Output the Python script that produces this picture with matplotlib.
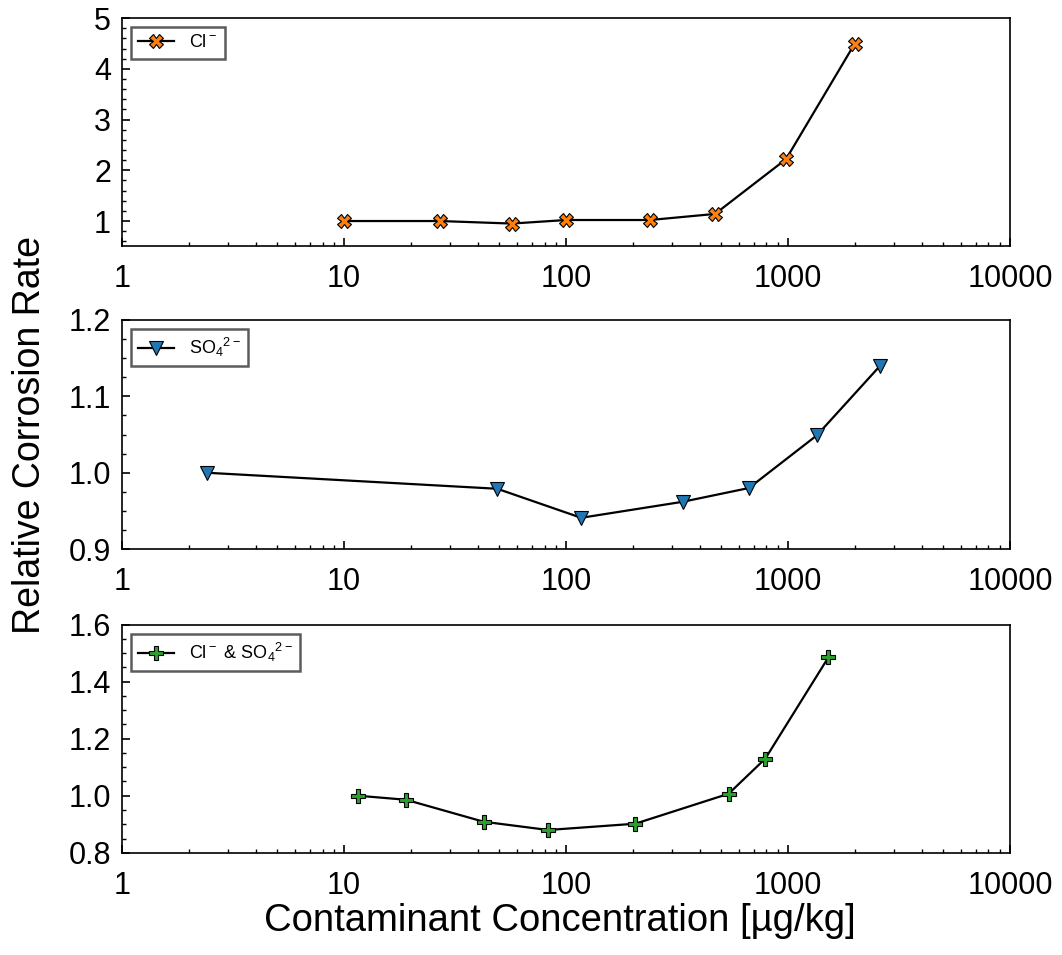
import matplotlib
matplotlib.use("Agg")
import matplotlib.pyplot as plt
from matplotlib.ticker import MultipleLocator, LogLocator, NullFormatter

plt.rcParams['font.family'] = ['Liberation Sans', 'DejaVu Sans']
plt.rcParams['mathtext.fontset'] = 'custom'
plt.rcParams['mathtext.rm'] = 'Liberation Sans'

# Data
cl_x = [10, 27, 57, 100, 239, 469, 980, 2000]
cl_y = [1.0, 1.0, 0.95, 1.02, 1.02, 1.14, 2.22, 4.5]
so4_x = [2.4, 49, 117, 336, 667, 1350, 2600]
so4_y = [1.0, 0.979, 0.941, 0.962, 0.98, 1.049, 1.14]
mix_x = [11.6, 19, 42.5, 83, 205, 540, 790, 1520]
mix_y = [1.0, 0.986, 0.909, 0.88, 0.902, 1.007, 1.13, 1.485]

labels = [r'Cl$^-$', r'SO$_4$$^{2-}$', r'Cl$^-$ & SO$_4$$^{2-}$']
xticks = [1, 10, 100, 1000, 10000]
xticklabels = ['1', '10', '100', '1000', '10000']

fig = plt.figure(figsize=(10.62, 9.55), dpi=100)
L, R = 0.115, 0.951
positions = [(0.742, 0.981), (0.425, 0.665), (0.107, 0.346)]
series = [
    (cl_x, cl_y, 'X', '#ff7f0e', (0.5, 5), 0.2, [1, 2, 3, 4, 5], ['1', '2', '3', '4', '5']),
    (so4_x, so4_y, 'v', '#1f77b4', (0.9, 1.2), 0.025, [0.9, 1.0, 1.1, 1.2], ['0.9', '1.0', '1.1', '1.2']),
    (mix_x, mix_y, 'P', '#2ca02c', (0.8, 1.6), 0.05, [0.8, 1.0, 1.2, 1.4, 1.6], ['0.8', '1.0', '1.2', '1.4', '1.6']),
]

for (b, t), (xs, ys, mk, col, ylim, mnr, yt, ytl), lab in zip(positions, series, labels):
    ax = fig.add_axes([L, b, R - L, t - b])
    ax.plot(xs, ys, color='black', lw=1.6, marker=mk, markersize=10,
            markerfacecolor=col, markeredgecolor='black', markeredgewidth=0.8, label=lab)
    ax.set_xscale('log')
    ax.set_xlim(1, 10000)
    ax.set_ylim(*ylim)
    ax.set_xticks(xticks)
    ax.set_xticklabels(xticklabels)
    ax.xaxis.set_minor_locator(LogLocator(base=10, subs=range(2, 10)))
    ax.xaxis.set_minor_formatter(NullFormatter())
    ax.set_yticks(yt)
    ax.set_yticklabels(ytl)
    ax.yaxis.set_minor_locator(MultipleLocator(mnr))
    ax.tick_params(which='both', direction='in', top=False, right=False, labelsize=22)
    ax.tick_params(which='major', length=6, width=1.2)
    ax.tick_params(which='minor', length=3, width=1.0)
    ax.tick_params(axis='x', pad=13)
    ax.tick_params(axis='y', pad=8)
    for s in ax.spines.values():
        s.set_linewidth(1.2)
    leg = ax.legend(loc='upper left', fontsize=13, fancybox=False, frameon=True,
                    borderaxespad=0.5, handlelength=2.0)
    leg.get_frame().set_edgecolor('#333333')
    leg.get_frame().set_linewidth(1.8)

fig.text(0.028, 0.544, 'Relative Corrosion Rate', rotation=90, ha='center', va='center', fontsize=27)
fig.text(0.527, 0.036, 'Contaminant Concentration [µg/kg]', ha='center', va='center', fontsize=27.5)

fig.savefig('out.png', dpi=100)
